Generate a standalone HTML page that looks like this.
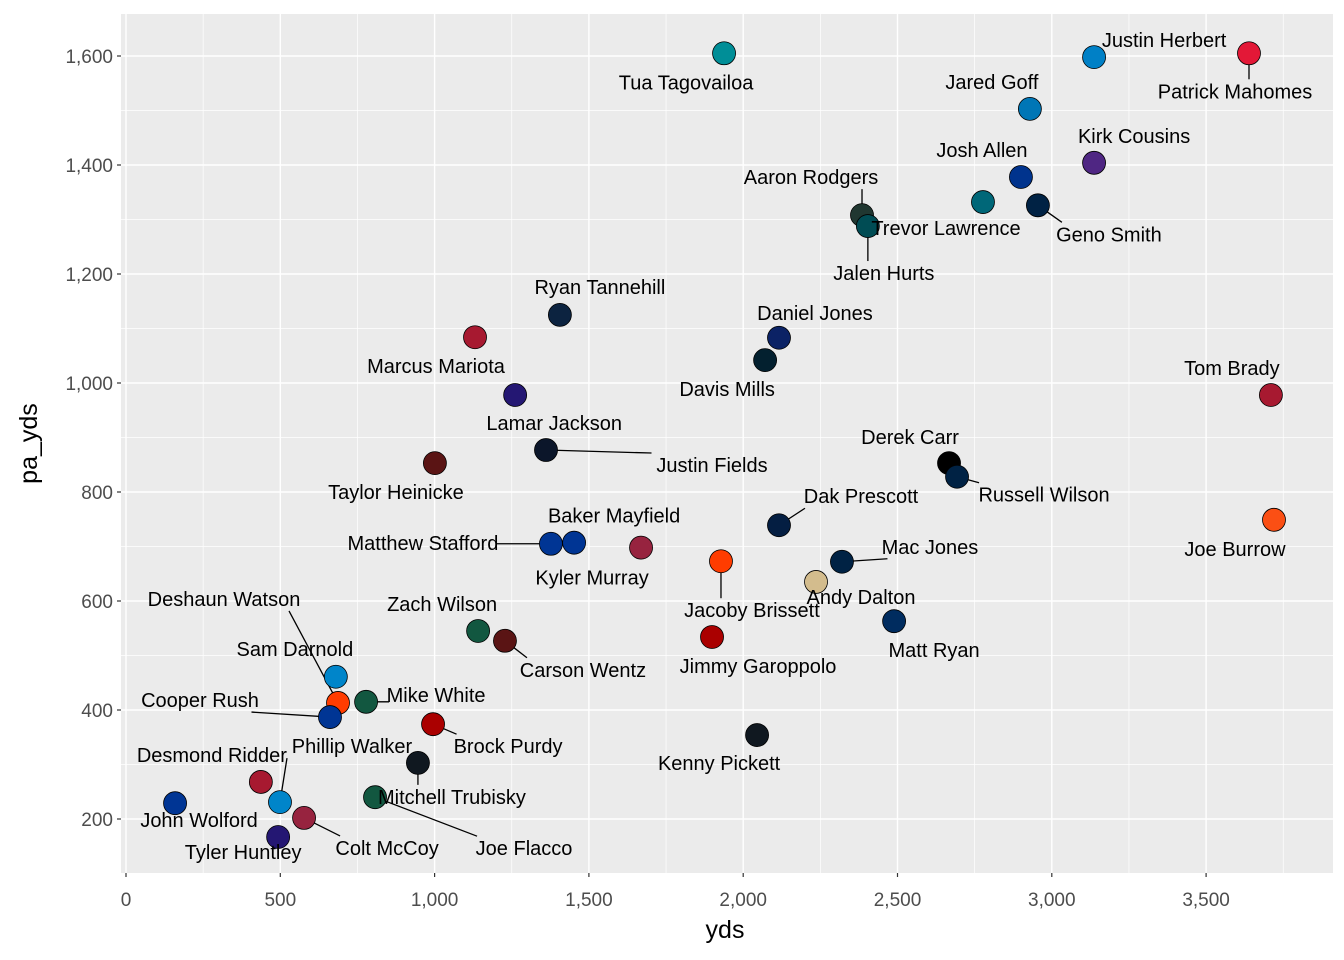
<!DOCTYPE html>
<html><head><meta charset="utf-8">
<style>
html,body{margin:0;padding:0;background:#fff;}
svg{display:block;}
.lab{font-family:"Liberation Sans Narrow","Liberation Sans",sans-serif;font-size:20px;fill:#000;}
.tick{font-family:"Liberation Sans",sans-serif;font-size:19px;fill:#4d4d4d;}
.ttl{font-family:"Liberation Sans",sans-serif;font-size:25px;fill:#000;}
</style></head>
<body>
<svg id="chart" width="1344" height="960"></svg>
<script>
const names=["Tua Tagovailoa","Justin Herbert","Patrick Mahomes","Jared Goff","Kirk Cousins","Josh Allen","Trevor Lawrence","Geno Smith","Aaron Rodgers","Jalen Hurts","Ryan Tannehill","Marcus Mariota","Daniel Jones","Davis Mills","Lamar Jackson","Tom Brady","Justin Fields","Taylor Heinicke","Derek Carr","Russell Wilson","Dak Prescott","Joe Burrow","Baker Mayfield","Matthew Stafford","Kyler Murray","Jacoby Brissett","Mac Jones","Andy Dalton","Matt Ryan","Zach Wilson","Carson Wentz","Jimmy Garoppolo","Sam Darnold","Deshaun Watson","Mike White","Cooper Rush","Brock Purdy","Kenny Pickett","Mitchell Trubisky","Desmond Ridder","Joe Flacco","John Wolford","Phillip Walker","Colt McCoy","Tyler Huntley"];
const yds=[1938,3137,3639,2929,3137,2900,2777,2955,2385,2404,1406,1131,2116,2071,1261,3710,1361,1001,2667,2693,2116,3720,1452,1377,1669,1928,2320,2236,2489,1141,1228,1899,680,687,778,661,995,2045,946,437,807,159,499,577,493];
const paYds=[1605,1598,1605,1503,1404,1378,1332,1326,1308,1288,1125,1084,1083,1042,978,978,877,853,853,828,739,749,707,705,698,673,672,635,563,545,527,534,461,413,415,387,374,354,303,268,240,229,231,202,167];
const fills=["#008E97","#0080C6","#E31837","#0076B6","#4F2683","#00338D","#006778","#002244","#203731","#004C54","#0C2340","#A71930","#0B2265","#03202F","#241773","#A71930","#0B162A","#5A1414","#000000","#002244","#041E42","#FB4F14","#003594","#003594","#97233F","#FF3C00","#002244","#D3BC8D","#002C5F","#125740","#5A1414","#AA0000","#0085CA","#FF3C00","#125740","#003594","#AA0000","#101820","#101820","#A71930","#125740","#003594","#0085CA","#97233F","#241773"];
// label offsets from point (px) - layout
const ldx=[-38,70,-14,-38,40,-39,-37,71,-51,16,40,-39,36,-38,39,-39,166,-39,-39,87,82,-39,40,-128,-49,31,88,45,40,-36,78,46,-41,-114,70,-130,75,-38,34,-49,149,24,72,83,-35];
const ldy=[29,-17,38,-27,-27,-27,26,29,-38,47,-28,29,-25,29,28,-27,15,29,-26,18,-29,29,-27,-1,30,49,-15,15,29,-27,29,29,-28,-104,-7,-17,22,28,34,-27,51,17,-56,30,15];
const X0=126,KX=0.3086,Y0=819,KY=0.545;
const sx=v=>X0+v*KX, sy=v=>Y0-(v-200)*KY;
const NS="http://www.w3.org/2000/svg";
const svg=document.getElementById('chart');
function mk(t,a,p){const e=document.createElementNS(NS,t);for(const k in a)e.setAttribute(k,a[k]);(p||svg).appendChild(e);return e;}
const L=121,R=1333,T=14,B=873;
const panel=mk('rect',{x:L,y:T,width:R-L,height:B-T,fill:'#ebebeb'});


const xt=[0,500,1000,1500,2000,2500,3000,3500], yt=[200,400,600,800,1000,1200,1400,1600];
for(const v of xt){mk('line',{x1:sx(v+250),x2:sx(v+250),y1:T,y2:B,stroke:'#fff','stroke-width':0.7});}
for(const v of yt){mk('line',{x1:L,x2:R,y1:sy(v+100),y2:sy(v+100),stroke:'#fff','stroke-width':0.7});}
for(const v of xt){mk('line',{x1:sx(v),x2:sx(v),y1:T,y2:B,stroke:'#fff','stroke-width':1.4});
 mk('line',{x1:sx(v),x2:sx(v),y1:B,y2:B+4,stroke:'#333','stroke-width':1.2});
 const t=mk('text',{x:sx(v),y:B+33,'text-anchor':'middle',class:'tick'});t.textContent=v.toLocaleString('en-US');
 
 }
for(const v of yt){mk('line',{x1:L,x2:R,y1:sy(v),y2:sy(v),stroke:'#fff','stroke-width':1.4});
 mk('line',{x1:L-4,x2:L,y1:sy(v),y2:sy(v),stroke:'#333','stroke-width':1.2});
 const t=mk('text',{x:L-8,y:sy(v)+7,'text-anchor':'end',class:'tick'});t.textContent=v.toLocaleString('en-US');
 
 }
const xtl=mk('text',{x:(L+R)/2+-2,y:938,'text-anchor':'middle',class:'ttl'});xtl.textContent='yds';


const ytl=mk('text',{x:37,y:(T+B)/2,'text-anchor':'middle',class:'ttl',transform:`rotate(-90 37 ${(T+B)/2})`});ytl.textContent='pa_yds';


// segments
names.forEach((n,i)=>{
 const px=sx(yds[i]),py=sy(paYds[i]);const cx=px+ldx[i],cy=py+ldy[i];
 const w=n.length*9/2+2,h=12;
 const qx=Math.max(cx-w,Math.min(px,cx+w)),qy=Math.max(cy-h,Math.min(py,cy+h));
 if(Math.hypot(qx-px,qy-py)>19){const s=mk('line',{x1:px,y1:py,x2:qx,y2:qy,stroke:'#000','stroke-width':1.3});
 
 }
});
names.forEach((n,i)=>{
 const c=mk('circle',{cx:sx(yds[i]),cy:sy(paYds[i]),r:11.5,fill:fills[i],stroke:'#000','stroke-width':0.8});
 
 
});
names.forEach((n,i)=>{
 const t=mk('text',{x:sx(yds[i])+ldx[i],y:sy(paYds[i])+ldy[i]+7,'text-anchor':'middle',class:'lab'});t.textContent=n;
 
 
});
</script>
</body></html>
